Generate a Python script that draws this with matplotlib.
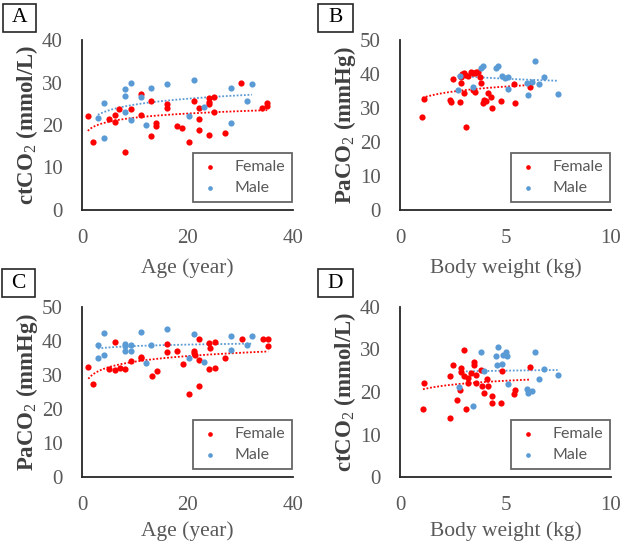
import numpy as np
import matplotlib
matplotlib.use("Agg")
import matplotlib.pyplot as plt
from matplotlib.patches import Rectangle

# ---------------- data ----------------
# Panel A: Age vs ctCO2
a_age_f = [1.1, 2.1, 5.1, 6.2, 6.2, 7.1, 8.1, 9.2, 11.1, 11.1, 13.1, 13.1, 14.1, 14.1,
           16.1, 16.1, 18.1, 19.0, 20.2, 21.2, 22.1, 22.1, 22.1, 24.1, 24.1, 24.1, 24.1,
           25.1, 25.1, 27.2, 30.2, 34.2, 35.1, 35.1]
a_ct_f = [22.2, 16.1, 21.4, 22.4, 20.6, 23.8, 13.7, 23.7, 27.3, 22.4, 25.7, 17.5, 20.5, 19.8,
          25.0, 23.9, 19.8, 19.2, 15.9, 25.7, 23.9, 21.4, 18.8, 26.4, 25.5, 24.9, 17.6,
          26.5, 23.0, 18.2, 30.0, 23.9, 25.1, 24.5]
a_age_m = [3.0, 4.1, 4.1, 8.1, 8.1, 8.1, 9.2, 9.2, 11.1, 12.1, 13.1, 16.1, 20.2, 21.2,
           23.1, 28.2, 28.2, 31.2, 32.2]
a_ct_m = [21.6, 25.1, 16.9, 28.5, 26.8, 23.1, 30.0, 21.2, 26.5, 19.9, 28.6, 29.6, 22.2, 30.6,
          24.2, 28.6, 20.4, 25.6, 29.6]

# Panel B: Body weight vs PaCO2
b_wt_f = [2.50, 2.89, 2.89, 3.05, 3.09, 3.36, 3.56, 3.59, 3.80, 3.83, 3.47, 3.56, 3.05, 4.19,
          4.30, 3.98, 3.91, 4.09, 4.34, 4.77, 5.47, 5.39, 6.14, 1.13, 1.06, 3.13, 2.38, 2.42,
          2.84, 3.20, 3.45, 2.95, 3.70]
b_pa_f = [38.4, 37.5, 39.2, 40.4, 39.7, 40.7, 40.2, 40.7, 39.0, 37.3, 35.3, 34.8, 34.3, 34.5,
          33.3, 32.4, 31.6, 32.2, 29.9, 32.2, 31.4, 37.1, 36.3, 32.6, 27.3, 24.5, 32.4, 31.9,
          31.7, 39.5, 40.3, 40.0, 40.5]
b_wt_m = [2.73, 2.84, 3.47, 3.84, 3.92, 4.53, 4.66, 4.84, 4.97, 5.12, 5.12, 6.06, 6.02, 6.25,
          6.41, 6.59, 6.84, 7.47]
b_pa_m = [35.4, 39.4, 36.2, 41.8, 42.5, 41.8, 42.4, 39.4, 38.9, 39.2, 35.5, 33.8, 37.4, 37.6,
          43.9, 37.1, 39.0, 34.2]

# Panel C: Age vs PaCO2
c_age_f = [1.2, 2.1, 5.2, 6.3, 7.2, 8.1, 6.3, 9.2, 11.1, 11.1, 13.2, 14.2, 16.2, 16.2, 18.1,
           19.2, 20.2, 21.2, 21.2, 21.4, 22.2, 22.2, 22.2, 24.1, 25.2, 24.3, 24.1, 25.2, 27.2,
           30.3, 34.3, 35.3, 35.3]
c_pa_f = [32.3, 27.3, 31.8, 31.5, 32.2, 31.8, 39.8, 34.1, 35.4, 34.9, 29.7, 31.2, 39.0, 36.9,
          37.1, 33.1, 24.3, 37.1, 36.4, 35.9, 40.6, 34.4, 26.9, 39.3, 39.6, 38.0, 31.8, 32.2,
          35.1, 40.6, 40.6, 40.6, 38.6]
c_age_m = [3.0, 3.0, 4.1, 4.1, 8.1, 8.1, 8.1, 9.2, 9.2, 11.1, 12.1, 13.1, 16.1, 20.2, 21.2,
           23.1, 28.2, 28.2, 31.2, 32.2]
c_pa_m = [38.9, 35.0, 42.4, 36.0, 39.2, 38.5, 37.0, 38.9, 37.1, 42.6, 33.6, 38.9, 43.6, 35.1,
          42.2, 33.8, 41.5, 37.3, 38.9, 41.5]

# Panel D: Body weight vs ctCO2
d_wt_f = [3.05, 2.50, 2.89, 2.89, 3.52, 3.52, 2.39, 3.36, 3.05, 3.20, 3.59, 3.83, 3.20, 3.62,
          2.86, 4.14, 3.90, 4.19, 3.98, 2.70, 4.34, 4.34, 4.77, 3.13, 1.09, 1.13, 2.38, 5.39,
          5.47, 6.14, 4.84]
d_ct_f = [29.9, 26.4, 25.6, 24.8, 27.1, 26.4, 23.8, 24.4, 23.8, 23.2, 24.0, 25.2, 22.2, 22.2,
          20.5, 23.0, 21.3, 21.3, 19.7, 18.1, 19.1, 17.3, 17.5, 15.9, 15.9, 22.2, 13.8, 19.5,
          20.5, 25.8, 25.0]
d_wt_m = [3.83, 4.66, 4.53, 4.88, 5.08, 5.00, 4.61, 4.84, 3.98, 5.12, 6.41, 6.84, 7.47, 6.59,
          6.02, 6.25, 6.06, 2.78, 3.47]
d_ct_m = [29.5, 30.5, 28.5, 28.7, 28.5, 29.5, 26.4, 26.6, 25.0, 22.0, 29.5, 25.3, 24.0, 23.0,
          20.6, 20.3, 19.7, 21.2, 16.7]

panel_letters = ["A", "B", "C", "D"]
x_labels = ["Age (year)", "Body weight (kg)", "Age (year)", "Body weight (kg)"]
y_labels = [r"ctCO$_2$ (mmol/L)", r"PaCO$_2$ (mmHg)", r"PaCO$_2$ (mmHg)", r"ctCO$_2$ (mmol/L)"]
x_ticks = [[0, 20, 40], [0, 5, 10], [0, 20, 40], [0, 5, 10]]
y_ticks = [[0, 10, 20, 30, 40], [0, 10, 20, 30, 40, 50], [0, 10, 20, 30, 40, 50], [0, 10, 20, 30, 40]]
legend_labels = ["Female", "Male"]

# ---------------- style ----------------
plt.rcParams["mathtext.fontset"] = "custom"
plt.rcParams["mathtext.rm"] = "Liberation Serif"
plt.rcParams["mathtext.it"] = "Liberation Serif:italic"
plt.rcParams["mathtext.bf"] = "Liberation Serif:bold"
plt.rcParams["font.family"] = ["Liberation Serif", "DejaVu Serif"]

RED = "#FF0000"
BLUE = "#5B9BD5"
GRAY = "#595959"
DARK = "#404040"

W, H = 623, 543
fig = plt.figure(figsize=(W / 100, H / 100), dpi=100)

def px_rect(x0, y0, x1, y1):
    return [x0 / W, 1 - y1 / H, (x1 - x0) / W, (y1 - y0) / H]

axes_px = [(82, 40, 293, 210), (400, 40, 611, 210), (82, 307, 293, 477), (400, 307, 611, 477)]
letter_px = [(3, 4, 36, 32), (318, 4, 353, 32), (2, 269, 35, 297), (318, 269, 353, 297)]
xlabel_pads = [7, 7, 4, 4]

panels = [
    (a_age_f, a_ct_f, a_age_m, a_ct_m),
    (b_wt_f, b_pa_f, b_wt_m, b_pa_m),
    (c_age_f, c_pa_f, c_age_m, c_pa_m),
    (d_wt_f, d_ct_f, d_wt_m, d_ct_m),
]

def log_trend(ax, x, y, color):
    x = np.asarray(x, float)
    y = np.asarray(y, float)
    b, a = np.polyfit(np.log(x), y, 1)
    xs = np.linspace(x.min(), x.max(), 200)
    ax.plot(xs, a + b * np.log(xs), color=color, ls=(0, (1, 1)), lw=1.3, zorder=3)

for i, (xf, yf, xm, ym) in enumerate(panels):
    ax = fig.add_axes(px_rect(*axes_px[i]))
    ax.scatter(xf, yf, s=20, color=RED, label=legend_labels[0], zorder=4, linewidths=0)
    ax.scatter(xm, ym, s=20, color=BLUE, label=legend_labels[1], zorder=4, linewidths=0)
    log_trend(ax, xf, yf, RED)
    log_trend(ax, xm, ym, BLUE)
    ax.set_xlim(x_ticks[i][0], x_ticks[i][-1])
    ax.set_ylim(y_ticks[i][0], y_ticks[i][-1])
    ax.set_xticks(x_ticks[i])
    ax.set_yticks(y_ticks[i])
    for s in ["top", "right"]:
        ax.spines[s].set_visible(False)
    for s in ["left", "bottom"]:
        ax.spines[s].set_color("#262626")
        ax.spines[s].set_linewidth(1.3)
    ax.tick_params(length=0, labelsize=15, labelcolor=GRAY)
    ax.tick_params(axis="y", pad=14)
    ax.tick_params(axis="x", pad=14)
    ax.set_xlabel(x_labels[i], fontsize=15.5, color=GRAY, labelpad=xlabel_pads[i])
    ax.set_ylabel(y_labels[i], fontsize=16.5, color=DARK, fontweight="bold", labelpad=1)
    leg = ax.legend(loc="lower right", bbox_to_anchor=(0.995, 0.047), frameon=True,
                    fancybox=False, prop={"family": "Lato", "size": 11.5},
                    handletextpad=0.9, borderpad=0.45, labelspacing=0.4,
                    handlelength=1.2, borderaxespad=0, markerscale=0.75)
    leg.get_frame().set_edgecolor(DARK)
    leg.get_frame().set_linewidth(1.3)
    for t in leg.get_texts():
        t.set_color(GRAY)

    x0, y0, x1, y1 = letter_px[i]
    fig.patches.append(Rectangle((x0 / W, 1 - y1 / H), (x1 - x0) / W, (y1 - y0) / H,
                                 transform=fig.transFigure, fill=False,
                                 edgecolor="#262626", linewidth=1.2))
    fig.text((x0 + x1) / 2 / W, 1 - (y0 + y1) / 2 / H, panel_letters[i], fontsize=15.5,
             ha="center", va="center", color="black")

fig.savefig("out.png", dpi=100)
